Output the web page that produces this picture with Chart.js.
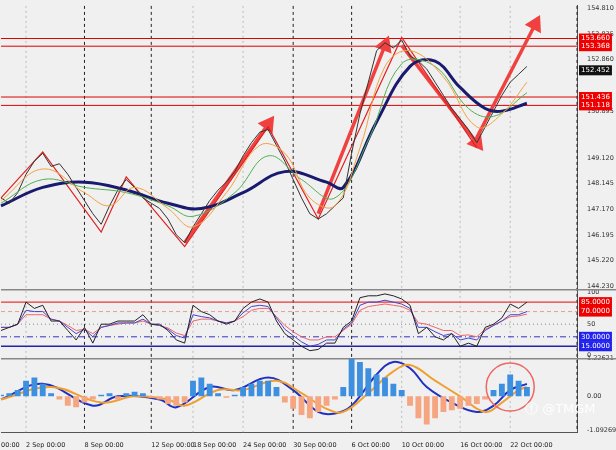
<!DOCTYPE html><html><head><meta charset="utf-8">
<script src="https://cdn.jsdelivr.net/npm/chart.js@4/dist/chart.umd.min.js"></script>
<style>html,body{margin:0;background:#f0f0f0}#w{width:616px;height:450px;position:relative}</style></head><body><div id="w"><canvas id="c"></canvas></div>
<script>
const N=70;
const dateLabels={0:'00:00',3:'2 Sep 00:00',10:'8 Sep 00:00',18:'12 Sep 00:00',23:'18 Sep 00:00',29:'24 Sep 00:00',35:'30 Sep 00:00',42:'6 Oct 00:00',48:'10 Oct 00:00',55:'16 Oct 00:00',61:'22 Oct 00:00'};
const dashedIdx=[10,18,35,42,69];
const closes=[147.6,147.4,147.8,148.5,149.0,149.3,148.8,148.9,148.5,148.0,147.5,147.0,146.6,147.3,147.9,148.3,148.0,147.6,147.4,147.2,146.8,146.2,145.9,146.5,147.0,147.5,147.9,148.2,148.6,149.2,149.7,150.1,150.2,149.6,149.0,148.3,147.6,147.0,146.8,147.0,147.3,147.6,149.3,150.8,152.0,153.2,153.5,153.3,153.6,153.0,152.8,152.5,152.0,151.5,151.0,150.6,150.2,149.7,150.3,150.9,151.5,152.0,152.3,152.6];
const maPts=[[0,147.3],[5,148.0],[10,148.2],[15,147.9],[20,147.4],[24,147.2],[29,147.8],[34,148.6],[39,148.2],[41,148.0],[45,150.5],[49,152.6],[52,152.8],[55,151.8],[58,151.0],[60,150.9],[63,151.2]];
const fastPts=[[0,147.5],[5,148.7],[10,147.8],[13,147.3],[16,148.0],[20,147.2],[23,146.5],[27,147.8],[31,149.6],[34,149.3],[37,147.6],[40,147.3],[43,149.5],[46,152.6],[49,153.2],[53,152.2],[57,150.3],[60,150.8],[63,152.0]];
const midPts=[[0,147.4],[5,148.3],[10,148.0],[15,147.8],[20,147.3],[23,146.9],[28,147.8],[32,149.2],[36,148.3],[40,147.6],[44,149.8],[48,152.7],[52,152.6],[56,151.0],[59,150.7],[63,151.6]];
const zig=[[0,147.6],[5,149.35],[12,146.3],[15,148.4],[22,145.75],[32,150.3],[38,146.8],[48,153.7],[57,149.5]];
const arrows=[[[22,145.9],[32,150.4]],[[38,147.0],[46,153.4]],[[48,153.4],[57,149.7]],[[57,149.9],[64,154.2]]];
const priceTicks=[154.810,153.835,152.860,150.895,149.120,148.145,147.170,146.195,145.220,144.230];
const redLevels=[153.660,153.368,151.436,151.118];
const lastPrice=152.452;
const stochK=[40,45,50,85,75,80,55,55,40,25,45,20,50,50,55,55,55,65,50,50,40,25,20,80,70,65,55,50,55,75,85,90,85,55,35,25,15,8,10,20,20,45,55,92,95,95,98,95,90,80,35,45,30,25,35,15,20,15,45,50,60,82,75,85];
const stochB=[45,45,50,72,70,70,58,55,45,35,42,30,45,48,52,52,52,58,50,48,42,32,28,65,62,60,55,52,55,68,78,80,78,60,42,32,22,15,18,25,25,42,52,80,85,85,88,85,82,75,45,45,38,32,35,25,28,25,40,48,55,65,65,70];
const stochR=[45,45,50,65,65,65,58,55,48,40,42,35,45,48,50,52,52,55,50,48,44,36,32,55,58,58,55,52,55,62,72,75,75,62,48,38,30,25,25,30,30,40,50,72,78,80,82,80,78,72,52,50,45,40,40,32,33,30,42,48,55,62,63,66];
const stochLevels=[[85,'#e33','solid','85.0000','#e00'],[70,'#e99','dash','70.0000','#e00'],[50,'#888','dot',null],[30,'#33c','dashdot','30.0000','#22e'],[15,'#22a','solid','15.0000','#22e']];
const hist=[0.05,0.1,0.2,0.5,0.6,0.4,0.1,-0.1,-0.3,-0.35,-0.2,-0.1,0.05,0.1,-0.1,0.1,0.15,0.1,-0.05,-0.1,-0.25,-0.3,-0.2,0.5,0.6,0.4,0.1,-0.05,0.05,0.3,0.4,0.5,0.5,0.3,-0.2,-0.4,-0.6,-0.7,-0.5,-0.3,-0.1,0.3,1.2,1.1,0.9,0.7,0.6,0.4,0.2,-0.3,-0.7,-0.9,-0.7,-0.5,-0.45,-0.4,-0.3,-0.25,-0.1,0.2,0.4,0.7,0.5,0.3];
const macdPts=[[0,-0.1],[5,0.4],[11,-0.3],[14,0],[19,-0.1],[21,-0.35],[25,0.3],[28,0.2],[32,0.6],[35,0.2],[38,-0.5],[40,-0.55],[42,-0.3],[45,0.7],[47,1.1],[49,0.9],[51,0.3],[54,-0.2],[57,-0.5],[59,-0.3],[61,0.2],[63,0.4]];
const sigPts=[[0,-0.1],[6,0.3],[12,-0.2],[16,0],[20,-0.1],[22,-0.3],[26,0.2],[29,0.2],[33,0.5],[36,0.1],[39,-0.4],[41,-0.5],[44,0.1],[47,0.8],[49,1.0],[52,0.5],[55,0],[58,-0.5],[60,-0.2],[62,0.2],[63,0.3]];
const macdTicks=[-1.09269,0,1.22621];

const labels=[...Array(N).keys()];
const sparse=p=>{const a=Array(N).fill(null);p.forEach(([i,v])=>a[i]=v);return a;};
const ds=[];
ds.push({type:'line',data:sparse(fastPts),yAxisID:'y',borderColor:'#f4a040',borderWidth:1,pointRadius:0,tension:0.4,spanGaps:true});
ds.push({type:'line',data:sparse(midPts),yAxisID:'y',borderColor:'#50b050',borderWidth:1,pointRadius:0,tension:0.4,spanGaps:true});
ds.push({type:'line',data:closes,yAxisID:'y',borderColor:'#333',borderWidth:1,pointRadius:0,tension:0});
ds.push({type:'line',data:sparse(maPts),yAxisID:'y',borderColor:'#1a1a6e',borderWidth:3,pointRadius:0,tension:0.4,spanGaps:true});
ds.push({type:'line',data:sparse(zig),yAxisID:'y',borderColor:'#e02020',borderWidth:1.2,pointRadius:0,spanGaps:true});
arrows.forEach(a=>ds.push({type:'line',data:sparse(a),yAxisID:'y',borderColor:'#f04040',borderWidth:3.5,spanGaps:true,
 pointRadius:c=>c.dataIndex===a[1][0]?7:0,pointStyle:'triangle',pointBackgroundColor:'#f04040',pointBorderColor:'#f04040',
 pointRotation:c=>{const ch=c.chart,x=ch.scales.x,y=ch.scales.y;if(!x||!y)return 0;const dx=x.getPixelForValue(a[1][0])-x.getPixelForValue(a[0][0]);const dy=y.getPixelForValue(a[1][1])-y.getPixelForValue(a[0][1]);return Math.atan2(dy,dx)*180/Math.PI+90;}}));
ds.push({type:'line',data:stochK,yAxisID:'ys',borderColor:'#222',borderWidth:1,pointRadius:0});
ds.push({type:'line',data:stochB,yAxisID:'ys',borderColor:'#44c',borderWidth:1,pointRadius:0});
ds.push({type:'line',data:stochR,yAxisID:'ys',borderColor:'#e66',borderWidth:1,pointRadius:0});
ds.push({type:'bar',data:hist,yAxisID:'ym',backgroundColor:hist.map(v=>v>=0?'#3d8fe0':'#f5a580'),barPercentage:0.7,categoryPercentage:1});
ds.push({type:'line',data:sparse(sigPts),yAxisID:'ym',borderColor:'#f0a030',borderWidth:2,pointRadius:0,tension:0.4,spanGaps:true});
ds.push({type:'line',data:sparse(macdPts),yAxisID:'ym',borderColor:'#2030c0',borderWidth:2,pointRadius:0,tension:0.4,spanGaps:true});

function box(ctx,x,y,t,bg){ctx.font='7px "DejaVu Sans"';const w=ctx.measureText(t).width+4;ctx.fillStyle=bg;ctx.fillRect(x,y-5,w,10);ctx.fillStyle='#fff';ctx.textBaseline='middle';ctx.textAlign='left';ctx.fillText(t,x+2,y);}
const deco={id:'deco',beforeDatasetsDraw(ch){const c=ch.ctx,a=ch.chartArea,x=ch.scales.x;c.save();
 dashedIdx.forEach(i=>{const px=x.getPixelForValue(i);c.strokeStyle='#222';c.setLineDash([3,3]);c.lineWidth=1;c.beginPath();c.moveTo(px,a.top);c.lineTo(px,a.bottom);c.stroke();});
 Object.keys(dateLabels).forEach(i=>{if(dashedIdx.includes(+i)||+i===0)return;const px=x.getPixelForValue(+i);c.strokeStyle='#bbb';c.setLineDash([2,3]);c.beginPath();c.moveTo(px,a.top);c.lineTo(px,a.bottom);c.stroke();});
 c.setLineDash([]);const y=ch.scales.y;
 redLevels.forEach(v=>{const py=y.getPixelForValue(v);c.strokeStyle='#d00';c.lineWidth=1;c.beginPath();c.moveTo(a.left,py);c.lineTo(a.right,py);c.stroke();});
 const ys=ch.scales.ys;stochLevels.forEach(([v,col,st])=>{const py=ys.getPixelForValue(v);c.strokeStyle=col;c.lineWidth=st==='solid'?1.3:1;c.setLineDash(st==='dash'?[4,3]:st==='dot'?[1,3]:st==='dashdot'?[6,3,1,3]:[]);c.beginPath();c.moveTo(a.left,py);c.lineTo(a.right,py);c.stroke();});
 c.setLineDash([]);c.strokeStyle='#888';c.lineWidth=1.5;[ys.top-3,ys.bottom+3].forEach(py=>{c.beginPath();c.moveTo(a.left,py);c.lineTo(ch.width,py);c.stroke();});
 c.restore();},
 afterDraw(ch){const c=ch.ctx,a=ch.chartArea,y=ch.scales.y,ys=ch.scales.ys,ym=ch.scales.ym,x=ch.scales.x;c.save();
 redLevels.forEach(v=>box(c,a.right+2,y.getPixelForValue(v),v.toFixed(3),'#e00'));
 box(c,a.right+2,y.getPixelForValue(lastPrice),lastPrice.toFixed(3),'#111');
 stochLevels.forEach(([v,,,t,bg])=>{if(t)box(c,a.right+2,ys.getPixelForValue(v),t,bg);});
 c.strokeStyle='#e66';c.lineWidth=1.5;c.beginPath();c.arc(x.getPixelForValue(61),ym.getPixelForValue(0.3),24,0,Math.PI*2);c.stroke();
 c.font='13px "DejaVu Sans"';c.fillStyle='rgba(255,255,255,0.9)';c.textAlign='left';c.textBaseline='middle';c.fillText('ⓕ @TMGM',525,410);
 c.restore();}};

const tf={size:6.5,family:'DejaVu Sans'};
new Chart(document.getElementById('c'),{data:{labels,datasets:ds},plugins:[deco],
options:{responsive:true,maintainAspectRatio:false,animation:false,layout:{padding:{top:4,bottom:0,left:0,right:0}},
plugins:{legend:{display:false},tooltip:{enabled:false}},
scales:{
x:{type:'category',offset:false,grid:{display:false},border:{color:'#555'},ticks:{autoSkip:false,maxRotation:0,align:'start',padding:1,font:tf,color:'#222',callback:(v,i)=>dateLabels[i]||''}},
y:{position:'right',stack:'s',stackWeight:300,min:144.0,max:154.9,grid:{display:false},border:{color:'#555'},afterBuildTicks:s=>{s.ticks=priceTicks.map(v=>({value:v}))},ticks:{font:tf,color:'#333',padding:2,callback:v=>v.toFixed(3)},afterFit:s=>{s.width=39}},
ys:{position:'right',stack:'s',stackWeight:66,min:0,max:100,grid:{display:false},border:{color:'#555'},afterBuildTicks:s=>{s.ticks=[0,50,100].map(v=>({value:v}))},ticks:{font:tf,color:'#333',padding:2},afterFit:s=>{s.width=39}},
ym:{position:'right',stack:'s',stackWeight:80,min:-1.15,max:1.3,grid:{display:false},border:{color:'#555'},afterBuildTicks:s=>{s.ticks=macdTicks.map(v=>({value:v}))},ticks:{font:tf,color:'#333',padding:2,callback:v=>v===0?'0.00':v.toFixed(5)},afterFit:s=>{s.width=39}}
}}});
</script></body></html>
